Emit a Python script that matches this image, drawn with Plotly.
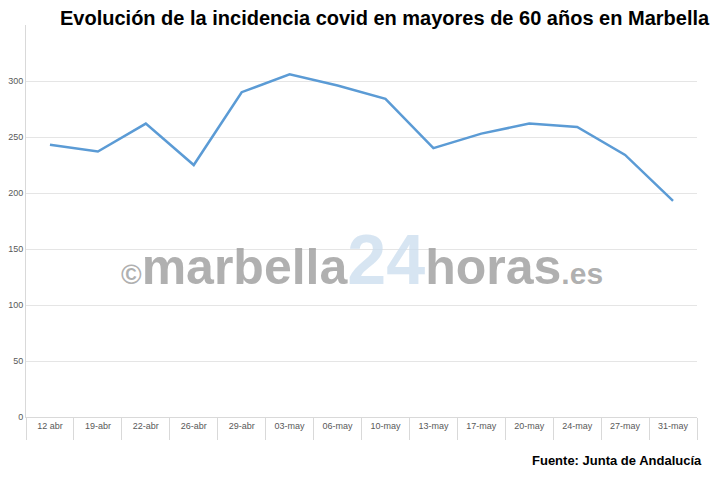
import plotly.graph_objects as go

categories = ["12 abr","19-abr","22-abr","26-abr","29-abr","03-may","06-may","10-may","13-may","17-may","20-may","24-may","27-may","31-may"]
values = [243, 237, 262, 225, 290, 306, 296, 284, 240, 253, 262, 259, 234, 193]

fig = go.Figure(go.Scatter(x=categories, y=values, mode="lines",
                           line=dict(color="#5b9bd5", width=2.5)))
fig.update_layout(
    width=722, height=482, margin=dict(l=18, r=33, t=17, b=73),
    plot_bgcolor="white", paper_bgcolor="white", showlegend=False,
    font=dict(family="Liberation Sans, Arial", color="#595959", size=9),
    xaxis=dict(type="category", range=[-0.5, 13.5], showgrid=False, ticks="outside", tickson="boundaries",
               ticklen=22, tickcolor="#d9d9d9", showline=True, linecolor="#d9d9d9",
               tickfont=dict(size=9, color="#595959"), automargin=False),
    yaxis=dict(range=[0, 350], tickvals=[0,50,100,150,200,250,300], showgrid=True,
               gridcolor="#e5e5e5", zeroline=False, showline=True, linecolor="#d9d9d9",
               tickfont=dict(size=9, color="#595959"), automargin=False),
    annotations=[
        dict(text="<b>Evolución de la incidencia covid en mayores de 60 años en Marbella</b>",
             x=0.535, y=1.0, xref="paper", yref="paper", yanchor="bottom", yshift=-6, showarrow=False,
             font=dict(size=20, color="black", family="Liberation Sans, Arial")),
        dict(text="<b>Fuente: Junta de Andalucía</b>", x=1.01, y=-0.135, xref="paper", yref="paper",
             xanchor="right", showarrow=False,
             font=dict(size=13, color="black", family="Liberation Sans, Arial")),
        dict(text="<b><span style='font-size:28px'>©</span>marbella<span style='color:#c9dcee;font-size:70px'>24</span>horas<span style='font-size:30px'>.es</span></b>",
             x=0.5, y=0.4, xref="paper", yref="paper", showarrow=False,
             font=dict(size=50, color="rgba(150,150,150,0.75)", family="Liberation Sans, Arial")),
    ],
)
fig.write_html("out.html")
